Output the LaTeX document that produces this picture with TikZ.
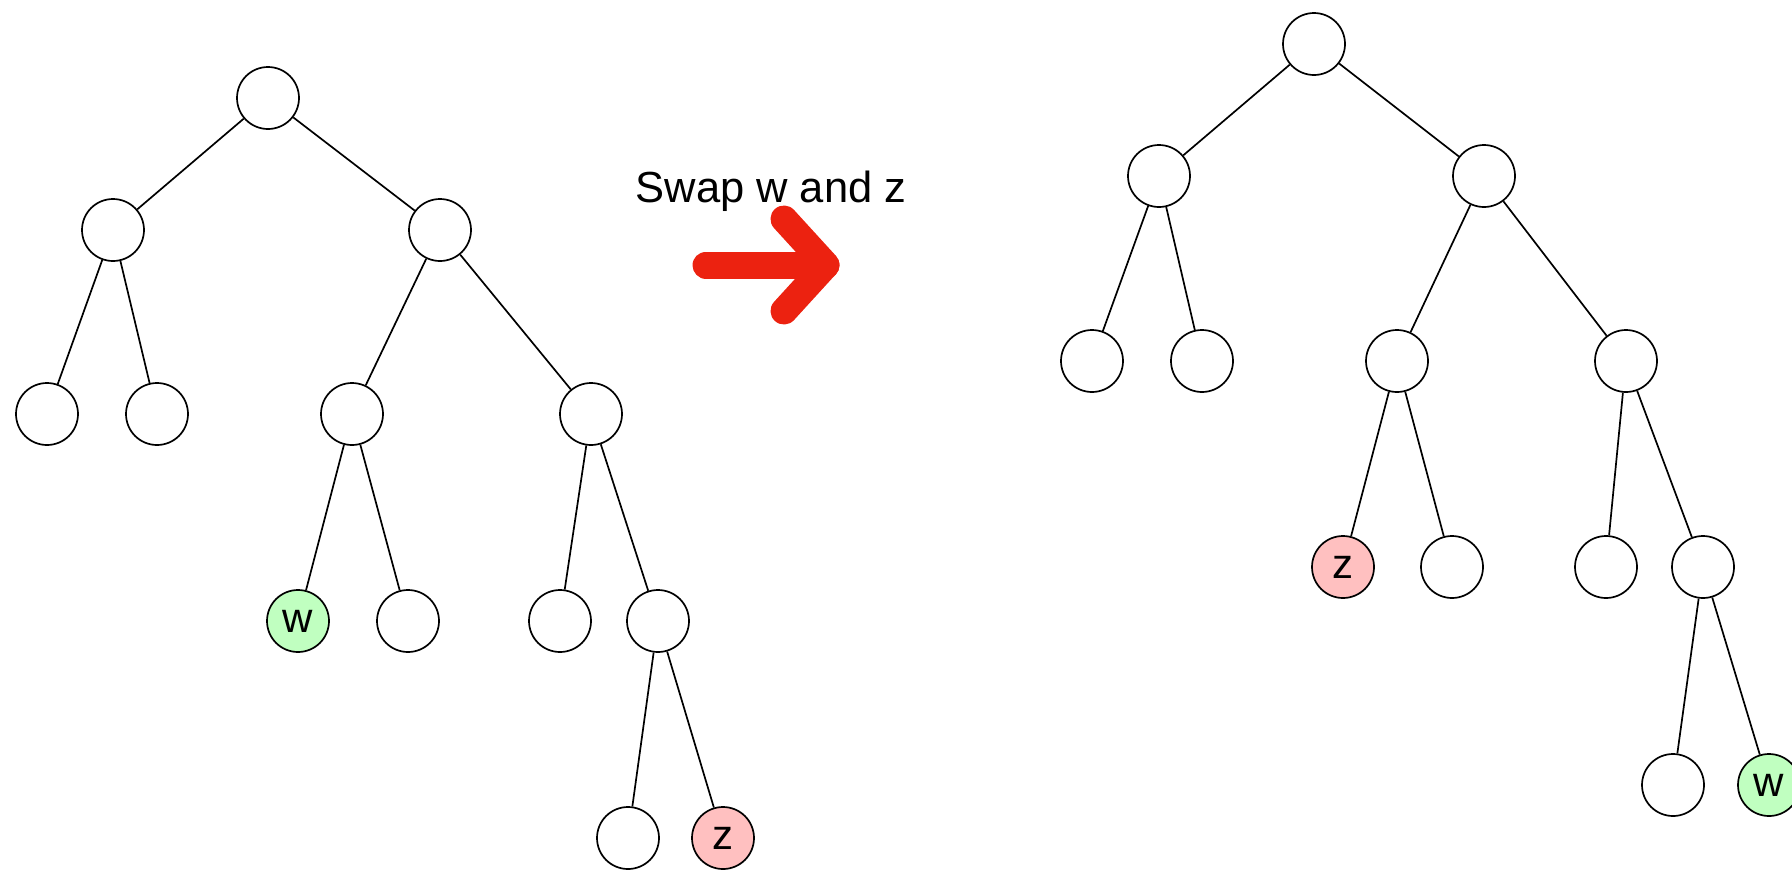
\documentclass[tikz,border=0pt]{standalone}
\usepackage{fontspec}
\setmainfont{Liberation Sans}
\definecolor{wfill}{RGB}{192,255,192}
\definecolor{zfill}{RGB}{255,192,192}
\definecolor{arrowred}{RGB}{236,34,16}
\begin{document}
\begin{tikzpicture}[x=1pt,y=-1pt,
  vtx/.style={circle,draw=black,line width=1.7pt,fill=white,minimum size=62pt,inner sep=0pt,font=\fontsize{42}{42}\selectfont},
  wvtx/.style={vtx,fill=wfill},
  zvtx/.style={vtx,fill=zfill},
  edge/.style={line width=1.7pt,draw=black},
  swaparrow/.style={draw=arrowred,line width=27pt,line cap=round,line join=round}]
\useasboundingbox (0,0) rectangle (1792,871);

% tree before the swap
\node[vtx] (a0) at (268,98) {};
\node[vtx] (a1) at (113,230) {};
\node[vtx] (a2) at (440,230) {};
\node[vtx] (a3) at (47,414) {};
\node[vtx] (a4) at (157,414) {};
\node[vtx] (a5) at (352,414) {};
\node[vtx] (a6) at (591,414) {};
\node[wvtx] (a7) at (298,621) {w};
\node[vtx] (a8) at (408,621) {};
\node[vtx] (a9) at (560,621) {};
\node[vtx] (a10) at (658,621) {};
\node[vtx] (a11) at (628,838) {};
\node[zvtx] (a12) at (723,838) {z};

\foreach \p/\c in {a0/a1,a0/a2,a1/a3,a1/a4,a2/a5,a2/a6,a5/a7,a5/a8,a6/a9,a6/a10,a10/a11,a10/a12}
  \draw[edge] (\p) -- (\c);

% tree after the swap
\node[vtx] (b0) at (1314,44) {};
\node[vtx] (b1) at (1159,176) {};
\node[vtx] (b2) at (1484,176) {};
\node[vtx] (b3) at (1092,361) {};
\node[vtx] (b4) at (1202,361) {};
\node[vtx] (b5) at (1397,361) {};
\node[vtx] (b6) at (1626,361) {};
\node[zvtx] (b7) at (1343,567) {z};
\node[vtx] (b8) at (1452,567) {};
\node[vtx] (b9) at (1606,567) {};
\node[vtx] (b10) at (1703,567) {};
\node[vtx] (b11) at (1673,785) {};
\node[wvtx] (b12) at (1769,785) {w};

\foreach \p/\c in {b0/b1,b0/b2,b1/b3,b1/b4,b2/b5,b2/b6,b5/b7,b5/b8,b6/b9,b6/b10,b10/b11,b10/b12}
  \draw[edge] (\p) -- (\c);

% caption and red arrow between the trees
\node[anchor=base,font=\fontsize{43.5}{43.5}\selectfont,inner sep=0pt] (cap) at (771,202) {Swap w and z};
\coordinate (shaftL) at (706,265);
\coordinate (tip) at (826,265);
\coordinate (armT) at (784,219);
\coordinate (armB) at (784,311);
\draw[swaparrow] (shaftL) -- (tip);
\draw[swaparrow] (armT) -- (tip) -- (armB);
\end{tikzpicture}
\end{document}
